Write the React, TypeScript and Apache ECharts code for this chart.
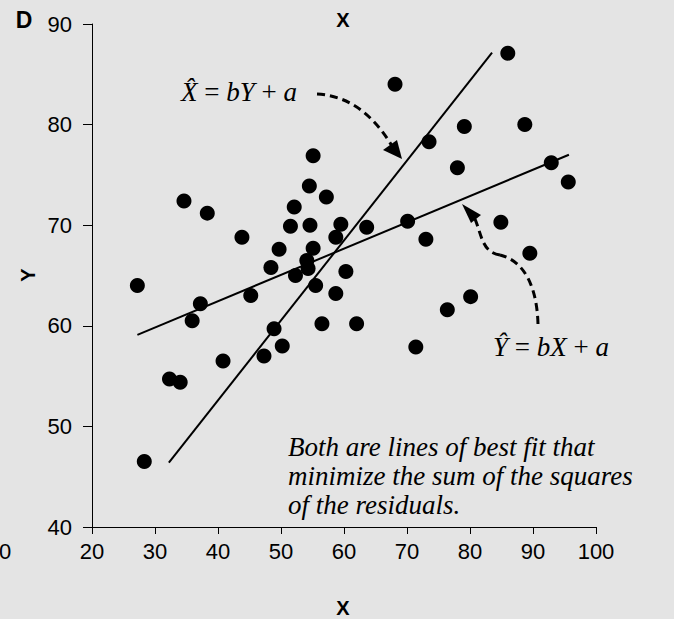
import React, { useEffect, useRef } from "react";
import * as echarts from "echarts";

// Observed pairs (X, Y)
const xValues = [
  27.2, 28.3, 32.3, 34.0, 34.6, 35.9, 37.2, 38.3, 40.8, 43.8,
  45.2, 47.3, 48.4, 48.9, 49.7, 50.2, 51.5, 52.1, 52.3, 54.1,
  54.3, 54.5, 54.6, 55.1, 55.1, 55.5, 56.5, 57.2, 58.7, 58.7,
  59.5, 60.3, 62.0, 63.6, 68.1, 70.1, 71.4, 73.0, 73.5, 76.4,
  78.0, 79.1, 80.1, 84.9, 86.0, 88.7, 89.5, 92.9, 95.6,
];
const yValues = [
  64.0, 46.5, 54.7, 54.4, 72.4, 60.5, 62.2, 71.2, 56.5, 68.8,
  63.0, 57.0, 65.8, 59.7, 67.6, 58.0, 69.9, 71.8, 65.0, 66.5,
  65.7, 73.9, 70.0, 76.9, 67.7, 64.0, 60.2, 72.8, 68.8, 63.2,
  70.1, 65.4, 60.2, 69.8, 84.0, 70.4, 57.9, 68.6, 78.3, 61.6,
  75.7, 79.8, 62.9, 70.3, 87.1, 80.0, 67.2, 76.2, 74.3,
];

// Regression of Y on X (Ŷ = bX + a): end points
const yOnXLineX = [27.2, 95.7];
const yOnXLineY = [59.1, 77.0];
// Regression of X on Y (X̂ = bY + a): end points
const xOnYLineX = [32.2, 83.5];
const xOnYLineY = [46.4, 87.15];

const xTickMin = 20;
const xTickMax = 100;
const yTickMin = 40;
const yTickMax = 90;
const tickStep = 10;

const SANS = '"Liberation Sans", Arial, Helvetica, sans-serif';
const SERIF = '"Liberation Serif", "Times New Roman", serif';

export default function App() {
  const ref = useRef<HTMLDivElement>(null);

  useEffect(() => {
    document.body.style.margin = "0";
    document.body.style.background = "#e4e4e4";
    const chart = echarts.init(ref.current!, null, { renderer: "svg" });

    const points = xValues.map((x, i) => [x, yValues[i]]);
    const lineYonX = yOnXLineX.map((x, i) => [x, yOnXLineY[i]]);
    const lineXonY = xOnYLineX.map((x, i) => [x, xOnYLineY[i]]);

    const eqRich = {
      i: { font: `italic 27px ${SERIF}`, fill: "#000" },
      n: { font: `27px ${SERIF}`, fill: "#000" },
    };

    const dashed = {
      stroke: "#000",
      lineWidth: 3,
      lineDash: [8, 5],
      fill: null,
    };

    chart.setOption({
      animation: false,
      backgroundColor: "#e4e4e4",
      grid: { left: 92, right: 78, top: 24, bottom: 92, containLabel: false },
      xAxis: {
        type: "value",
        min: xTickMin,
        max: xTickMax,
        interval: tickStep,
        axisLine: { show: true, lineStyle: { color: "#000", width: 1 } },
        axisTick: { show: true, inside: false, length: 7, lineStyle: { color: "#000" } },
        axisLabel: { color: "#000", fontFamily: SANS, fontSize: 22, margin: 13 },
        splitLine: { show: false },
      },
      yAxis: {
        type: "value",
        min: yTickMin,
        max: yTickMax,
        interval: tickStep,
        axisLine: { show: true, lineStyle: { color: "#000", width: 1 } },
        axisTick: { show: true, inside: false, length: 9, lineStyle: { color: "#000" } },
        axisLabel: { color: "#000", fontFamily: SANS, fontSize: 22, margin: 20 },
        splitLine: { show: false },
      },
      series: [
        {
          type: "line",
          data: lineYonX,
          symbol: "none",
          lineStyle: { color: "#000", width: 2 },
          z: 2,
        },
        {
          type: "line",
          data: lineXonY,
          symbol: "none",
          lineStyle: { color: "#000", width: 2 },
          z: 2,
        },
        {
          type: "scatter",
          data: points,
          symbol: "circle",
          symbolSize: 15,
          itemStyle: { color: "#000", opacity: 1 },
          z: 3,
        },
      ],
      graphic: [
        {
          type: "text",
          x: 24,
          y: 20,
          style: { text: "D", font: `bold 23px ${SANS}`, fill: "#000", align: "center", verticalAlign: "middle" },
        },
        {
          type: "text",
          x: 343,
          y: 20,
          style: { text: "X", font: `bold 20px ${SANS}`, fill: "#000", align: "center", verticalAlign: "middle" },
        },
        {
          type: "text",
          x: 343,
          y: 608,
          style: { text: "X", font: `bold 20px ${SANS}`, fill: "#000", align: "center", verticalAlign: "middle" },
        },
        {
          type: "text",
          x: 28,
          y: 275,
          rotation: Math.PI / 2,
          style: { text: "Y", font: `bold 20px ${SANS}`, fill: "#000", align: "center", verticalAlign: "middle" },
        },
        {
          type: "text",
          x: 5,
          y: 551,
          style: { text: "0", font: `22px ${SANS}`, fill: "#000", align: "center", verticalAlign: "middle" },
        },
        {
          type: "text",
          x: 181,
          y: 92,
          style: {
            text: "{i|X\u0302}{n| = }{i|bY}{n| + }{i|a}",
            rich: eqRich,
            align: "left",
            verticalAlign: "middle",
          },
        },
        {
          type: "text",
          x: 493,
          y: 347,
          style: {
            text: "{i|Y\u0302}{n| = }{i|bX}{n| + }{i|a}",
            rich: eqRich,
            align: "left",
            verticalAlign: "middle",
          },
        },
        {
          type: "text",
          x: 288,
          y: 432,
          style: {
            text: "Both are lines of best fit that\nminimize the sum of the squares\nof the residuals.",
            font: `italic 27px ${SERIF}`,
            lineHeight: 29,
            fill: "#000",
            align: "left",
            verticalAlign: "top",
          },
        },
        {
          type: "bezierCurve",
          shape: { x1: 317, y1: 94, cpx1: 352, cpy1: 96, cpx2: 375, cpy2: 118, x2: 392, y2: 146 },
          style: dashed,
        },
        {
          type: "polygon",
          shape: { points: [[402, 159], [383, 150], [397, 140]] },
          style: { fill: "#000" },
        },
        {
          type: "bezierCurve",
          shape: { x1: 538, y1: 324, cpx1: 537, cpy1: 288, cpx2: 525, cpy2: 261, x2: 500, y2: 255 },
          style: dashed,
        },
        {
          type: "bezierCurve",
          shape: { x1: 500, y1: 255, cpx1: 482, cpy1: 252, cpx2: 482, cpy2: 236, x2: 475, y2: 219 },
          style: dashed,
        },
        {
          type: "polygon",
          shape: { points: [[462, 204], [481, 215], [471, 223]] },
          style: { fill: "#000" },
        },
      ],
    });

    return () => chart.dispose();
  }, []);

  return <div ref={ref} style={{ width: 674, height: 619 }} />;
}
